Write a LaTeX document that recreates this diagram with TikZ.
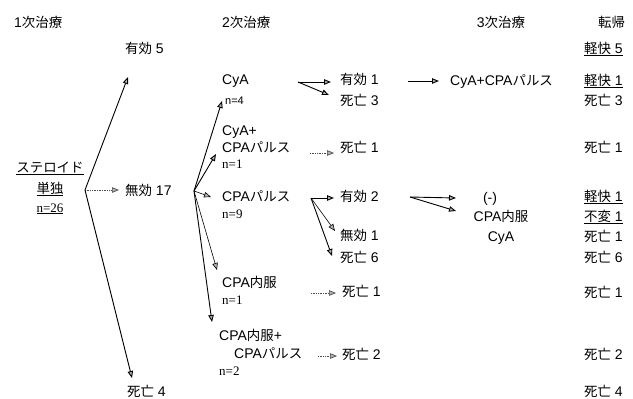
\documentclass[tikz,border=0pt]{standalone}
\usepackage{fontspec}
\setmainfont{Liberation Sans}
\newfontfamily\jpfont[Scale=0.96]{Noto Sans CJK JP}
\newfontfamily\serf{Liberation Serif}
\usetikzlibrary{arrows.meta}
\newcommand\J[1]{{\jpfont #1}}
\begin{document}
\begin{tikzpicture}[x=1pt,y=-1pt,
  lab/.style={anchor=base west,inner sep=0pt,font=\fontsize{14}{16}\selectfont},
  clab/.style={anchor=base,inner sep=0pt,font=\fontsize{14}{16}\selectfont},
  nlab/.style={anchor=base west,inner sep=0pt,font=\serf\fontsize{13}{15}\selectfont},
  tip/.style={-{Triangle[length=7pt,width=5.5pt,fill=gray!60]}},
  arr/.style={tip,draw=black,line width=0.9pt},
  arrt/.style={tip,draw=black,line width=0.6pt},
  arrd/.style={tip,draw=black!70,line width=0.7pt,densely dotted}]
\useasboundingbox (0,0) rectangle (633,399);
% headings
\node[lab] (h1) at (14,27) {1\J{次治療}};
\node[lab] (h2) at (222,27) {2\J{次治療}};
\node[clab] (h3) at (501,27) {3\J{次治療}};
\node[lab] (h4) at (598,27) {\J{転帰}};
% stage 1
\node[clab] (ster) at (50,172) {\underline{\J{ステロイド}}};
\node[clab] (tan) at (50,193) {\underline{\J{単独}}};
\node[clab,font=\serf\fontsize{13}{15}\selectfont] (n26) at (50,212) {\underline{n=26}};
\node[lab] (s1a) at (125,53) {\J{有効} 5};
\node[lab] (s1b) at (125,195) {\J{無効} 17};
\node[lab] (s1c) at (127,396) {\J{死亡} 4};
\coordinate (f1) at (85,190);
\coordinate (t11) at (128,77);
\coordinate (t12) at (119,190);
\coordinate (t13) at (132,378);
\draw[arr] (f1) -- (t11);
\draw[arrd] (f1) -- (t12);
\draw[arr] (f1) -- (t13);
% stage 2
\node[lab] (cya) at (222,84) {CyA};
\node[lab,font=\fontsize{11}{13}\selectfont] (n4) at (225,104) {n=4};
\node[lab] (cc1) at (222,135) {CyA+};
\node[lab] (cc2) at (222,152) {CPA\J{パルス}};
\node[nlab] (n1a) at (222,168) {n=1};
\node[lab] (cpap) at (222,201) {CPA\J{パルス}};
\node[nlab] (n9) at (222,218) {n=9};
\node[lab] (cpan) at (222,287) {CPA\J{内服}};
\node[nlab] (n1b) at (222,304) {n=1};
\node[lab] (cnp1) at (219,340) {CPA\J{内服}+};
\node[lab] (cnp2) at (234,358) {CPA\J{パルス}};
\node[nlab] (n2) at (219,375) {n=2};
\coordinate (f2) at (194,191);
\coordinate (t21) at (222,101);
\coordinate (t22) at (216,154);
\coordinate (t23) at (211,197);
\coordinate (t24) at (217,270);
\coordinate (t25) at (212,322);
\draw[arr] (f2) -- (t21);
\draw[arr] (f2) -- (t22);
\draw[arrt] (f2) -- (t23);
\draw[arrt] (f2) -- (t24);
\draw[arr] (f2) -- (t25);
% stage 2 outcomes
\node[lab] (o1) at (340,84) {\J{有効} 1};
\node[lab] (o2) at (340,105) {\J{死亡} 3};
\node[lab] (o3) at (340,152) {\J{死亡} 1};
\node[lab] (o4) at (340,201) {\J{有効} 2};
\node[lab] (o5) at (340,240) {\J{無効} 1};
\node[lab] (o6) at (340,262) {\J{死亡} 6};
\node[lab] (o7) at (342,296) {\J{死亡} 1};
\node[lab] (o8) at (342,359) {\J{死亡} 2};
\coordinate (v1) at (298,82);
\coordinate (v1a) at (331,82);
\coordinate (v1b) at (329,95);
\draw[arr] (v1) -- (v1a);
\draw[arr] (v1) -- (v1b);
\coordinate (d1s) at (310,153);
\coordinate (d1e) at (334,153);
\draw[arrd] (d1s) -- (d1e);
\coordinate (v2) at (311,198);
\coordinate (v2a) at (334,198);
\coordinate (v2b) at (335,231);
\coordinate (v2c) at (332,256);
\draw[arr] (v2) -- (v2a);
\draw[arrt] (v2) -- (v2b);
\draw[arr] (v2) -- (v2c);
\coordinate (d2s) at (311,293);
\coordinate (d2e) at (336,293);
\draw[arrd] (d2s) -- (d2e);
\coordinate (d3s) at (318,356);
\coordinate (d3e) at (337,356);
\draw[arrd] (d3s) -- (d3e);
% stage 3
\node[lab] (t1) at (450,85) {CyA+CPA\J{パルス}};
\node[clab] (t2) at (490,202) {(-)};
\node[clab] (t3) at (501,221) {CPA\J{内服}};
\node[clab] (t4) at (501,241) {CyA};
\coordinate (c1s) at (408,81);
\coordinate (c1e) at (439,81);
\draw[arr] (c1s) -- (c1e);
\coordinate (v3) at (410,197);
\coordinate (v3a) at (456,198);
\coordinate (v3b) at (456,211);
\draw[arr] (v3) -- (v3a);
\draw[arr] (v3) -- (v3b);
% outcome column
\node[lab] (r1) at (584,53) {\underline{\J{軽快} 5}};
\node[lab] (r2) at (584,85) {\underline{\J{軽快} 1}};
\node[lab] (r3) at (584,105) {\J{死亡} 3};
\node[lab] (r4) at (584,152) {\J{死亡} 1};
\node[lab] (r5) at (584,201) {\underline{\J{軽快} 1}};
\node[lab] (r6) at (584,221) {\underline{\J{不変} 1}};
\node[lab] (r7) at (584,241) {\J{死亡} 1};
\node[lab] (r8) at (584,262) {\J{死亡} 6};
\node[lab] (r9) at (584,297) {\J{死亡} 1};
\node[lab] (r10) at (584,359) {\J{死亡} 2};
\node[lab] (r11) at (584,396) {\J{死亡} 4};
\end{tikzpicture}
\end{document}
